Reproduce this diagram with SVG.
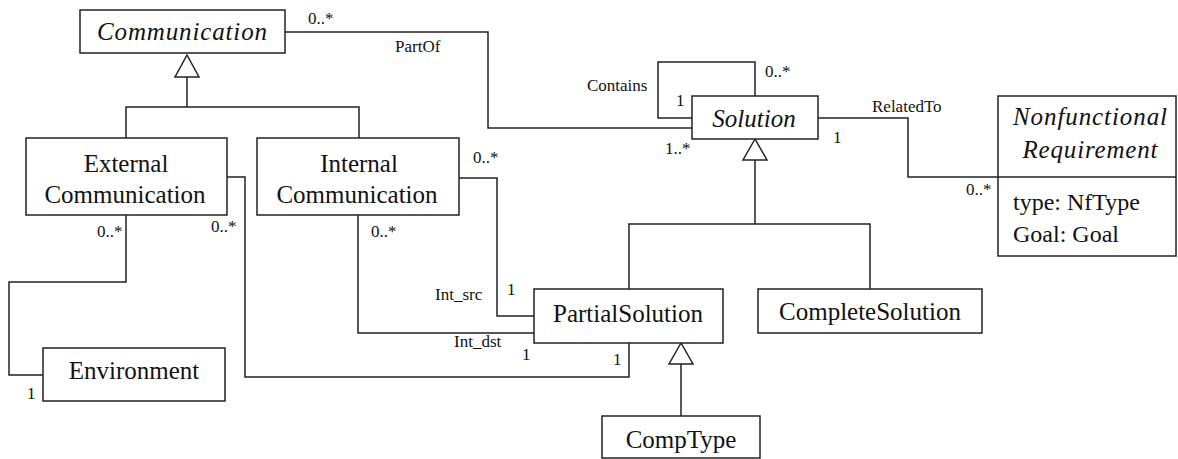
<svg xmlns="http://www.w3.org/2000/svg" width="1178" height="459" viewBox="0 0 1178 459">
<style>
.ln{fill:none;stroke:#222;stroke-width:1.5}
.box{fill:#fff;stroke:#222;stroke-width:1.5}
.lbl{font-family:'Liberation Serif','Times New Roman',serif;font-size:17px;fill:#111}
.nm{font-family:'Liberation Serif','Times New Roman',serif;font-size:25px;fill:#111;text-anchor:middle}
.at{font-family:'Liberation Serif','Times New Roman',serif;font-size:24px;fill:#111}
.it{font-style:italic}
</style>
<rect width="1178" height="459" fill="#fff"/>
<g id="connectors">
<polyline class="ln" points="285,32 488,32 488,128 692,128"/>
<polyline class="ln" points="692,118 658,118 658,62 755,62 755,96"/>
<polyline class="ln" points="818,118 908,118 908,177 998,177"/>
<polyline class="ln" points="187,77 187,107"/>
<polyline class="ln" points="126,138 126,107 359,107 359,138"/>
<polyline class="ln" points="755,160 755,224"/>
<polyline class="ln" points="629,289 629,224 870,224 870,289"/>
<polyline class="ln" points="681,364 681,416"/>
<polyline class="ln" points="126,215 126,282 9,282 9,375 43,375"/>
<polyline class="ln" points="227,177 245,177 245,377 629,377 629,343"/>
<polyline class="ln" points="459,178 497,178 497,316 534,316"/>
<polyline class="ln" points="358,215 358,333 534,333"/>
<polygon class="box" points="187,55 175,77 199,77"/>
<polygon class="box" points="755,139 743,160 767,160"/>
<polygon class="box" points="681,343 669,364 693,364"/>
<text class="lbl" x="308" y="24">0..*</text>
<text class="lbl" x="395" y="52">PartOf</text>
<text class="lbl" x="587" y="91">Contains</text>
<text class="lbl" x="676" y="106">1</text>
<text class="lbl" x="765" y="77">0..*</text>
<text class="lbl" x="665" y="154">1..*</text>
<text class="lbl" x="872" y="112">RelatedTo</text>
<text class="lbl" x="833" y="143">1</text>
<text class="lbl" x="966" y="195">0..*</text>
<text class="lbl" x="473" y="163">0..*</text>
<text class="lbl" x="97" y="237">0..*</text>
<text class="lbl" x="211" y="232">0..*</text>
<text class="lbl" x="371" y="237">0..*</text>
<text class="lbl" x="27" y="399">1</text>
<text class="lbl" x="435" y="300">Int_src</text>
<text class="lbl" x="507" y="295">1</text>
<text class="lbl" x="454" y="347">Int_dst</text>
<text class="lbl" x="522" y="360">1</text>
<text class="lbl" x="613" y="365">1</text>
</g>
<g id="communication">
<rect class="box" x="80" y="10" width="205" height="43"/>
<text class="nm it" x="182" y="40" textLength="170" lengthAdjust="spacing">Communication</text>
</g>
<g id="external-communication">
<rect class="box" x="26" y="138" width="201" height="77"/>
<text class="nm" x="126" y="172">External</text>
<text class="nm" x="125" y="203">Communication</text>
</g>
<g id="internal-communication">
<rect class="box" x="257" y="138" width="202" height="77"/>
<text class="nm" x="359" y="172">Internal</text>
<text class="nm" x="357" y="203">Communication</text>
</g>
<g id="solution">
<rect class="box" x="692" y="96" width="126" height="43"/>
<text class="nm it" x="754" y="127">Solution</text>
</g>
<g id="nonfunctional-requirement">
<rect class="box" x="998" y="96" width="178" height="160"/>
<line class="ln" x1="998" y1="177" x2="1176" y2="177"/>
<text class="nm it" x="1090" y="125" textLength="154" lengthAdjust="spacing">Nonfunctional</text>
<text class="nm it" x="1090" y="158" textLength="135" lengthAdjust="spacing">Requirement</text>
<text class="at" x="1013" y="210">type: NfType</text>
<text class="at" x="1013" y="242">Goal: Goal</text>
</g>
<g id="partial-solution">
<rect class="box" x="534" y="289" width="189" height="54"/>
<text class="nm" x="628" y="322">PartialSolution</text>
</g>
<g id="complete-solution">
<rect class="box" x="758" y="289" width="224" height="44"/>
<text class="nm" x="870" y="320">CompleteSolution</text>
</g>
<g id="environment">
<rect class="box" x="43" y="348" width="182" height="53"/>
<text class="nm" x="134" y="379">Environment</text>
</g>
<g id="comptype">
<rect class="box" x="602" y="416" width="158" height="42"/>
<text class="nm" x="681" y="448">CompType</text>
</g>
</svg>
